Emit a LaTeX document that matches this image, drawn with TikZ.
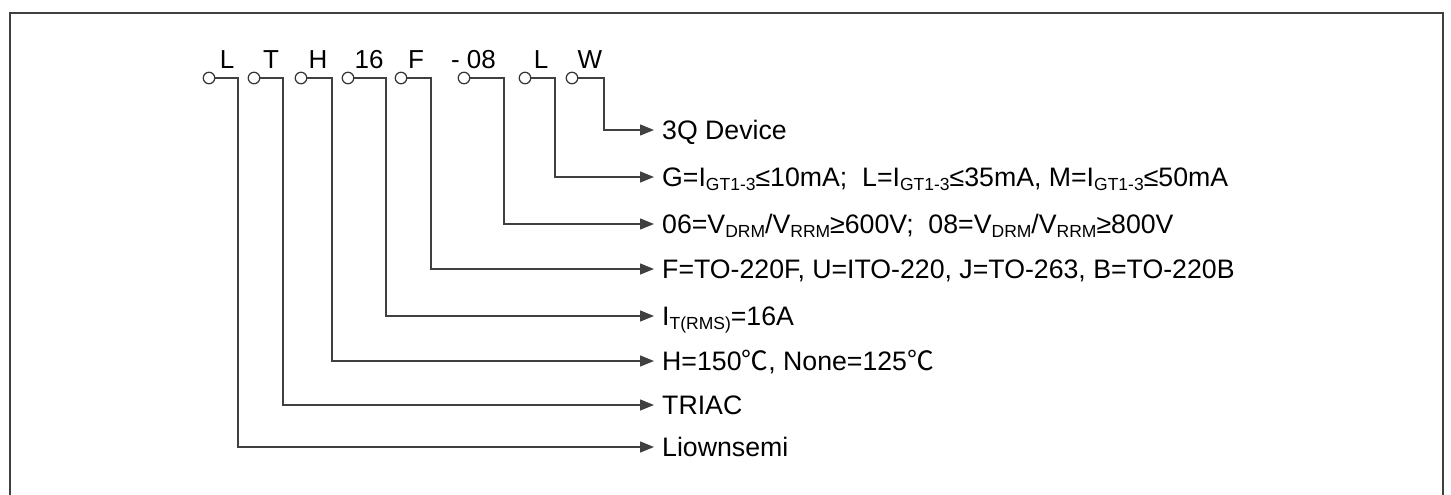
\documentclass[tikz,border=0pt]{standalone}
\usepackage{fontspec}
\setmainfont{Liberation Sans}
\newfontfamily\cjkf{Noto Sans CJK SC}
\usetikzlibrary{arrows.meta}
\newcommand{\sbs}[1]{\raisebox{-0.3ex}{\fontsize{17.5}{17.5}\selectfont #1}}
\newcommand{\degc}{{\cjkf ℃}}
\begin{document}
\begin{tikzpicture}[x=1pt,y=-1pt,
  conn/.style={draw=black!75, line width=1.4pt},
  arr/.style={conn,-{Triangle[length=14pt,width=11pt]}},
  pin/.style={circle, draw=black!80, line width=1.2pt, fill=white, minimum size=11.5pt, inner sep=0pt},
  toplab/.style={font=\fontsize{26}{26}\selectfont, anchor=base, inner sep=0pt},
  desc/.style={font=\fontsize{26.7}{26.7}\selectfont, anchor=base west, inner sep=0pt}]
\useasboundingbox (0,0) rectangle (1451,495);
\draw[line width=2pt, black!75] (10,500) -- (10,13) -- (1443,13) -- (1443,500);
% top labels
\node[toplab] (t1) at (227,68) {L};
\node[toplab] (t2) at (271,68) {T};
\node[toplab] (t3) at (318,68) {H};
\node[toplab] (t4) at (369,68) {16};
\node[toplab] (t5) at (416,68) {F};
\node[toplab] (t6) at (473.5,68) {-\hspace{7pt}08};
\node[toplab] (t7) at (541,68) {L};
\node[toplab] (t8) at (590,68) {W};
% corner coordinates
\coordinate (k1) at (238,78);
\coordinate (k2) at (283,78);
\coordinate (k3) at (332,78);
\coordinate (k4) at (386,78);
\coordinate (k5) at (431,78);
\coordinate (k6) at (504,78);
\coordinate (k7) at (555,78);
\coordinate (k8) at (604,78);
% arrow ends
\coordinate (e1) at (654,447);
\coordinate (e2) at (654,405);
\coordinate (e3) at (654,361);
\coordinate (e4) at (654,316);
\coordinate (e5) at (654,269);
\coordinate (e6) at (654,224);
\coordinate (e7) at (654,177);
\coordinate (e8) at (654,130);
% descriptions
\node[desc] (d1) at (662,456.5) {Liownsemi};
\node[desc] (d2) at (662,414.5) {TRIAC};
\node[desc] (d3) at (662,370.5) {H=150\degc, None=125\degc};
\node[desc] (d4) at (662,325.5) {I\sbs{T(RMS)}=16A};
\node[desc] (d5) at (662,278.5) {F=TO-220F, U=ITO-220, J=TO-263, B=TO-220B};
\node[desc] (d6) at (662,233.5) {06=V\sbs{DRM}/V\sbs{RRM}≥600V;\ \ 08=V\sbs{DRM}/V\sbs{RRM}≥800V};
\node[desc] (d7) at (662,186.5) {G=I\sbs{GT1-3}≤10mA;\ \ L=I\sbs{GT1-3}≤35mA, M=I\sbs{GT1-3}≤50mA};
\node[desc] (d8) at (662,139.5) {3Q Device};
% connectors
\foreach \i/\cx in {1/209,2/254,3/301,4/348,5/401,6/464,7/525,8/572}{
  \node[pin] (c\i) at (\cx,78) {};
  \draw[arr] (c\i.east) -- (k\i) |- (e\i);
}
\end{tikzpicture}
\end{document}
